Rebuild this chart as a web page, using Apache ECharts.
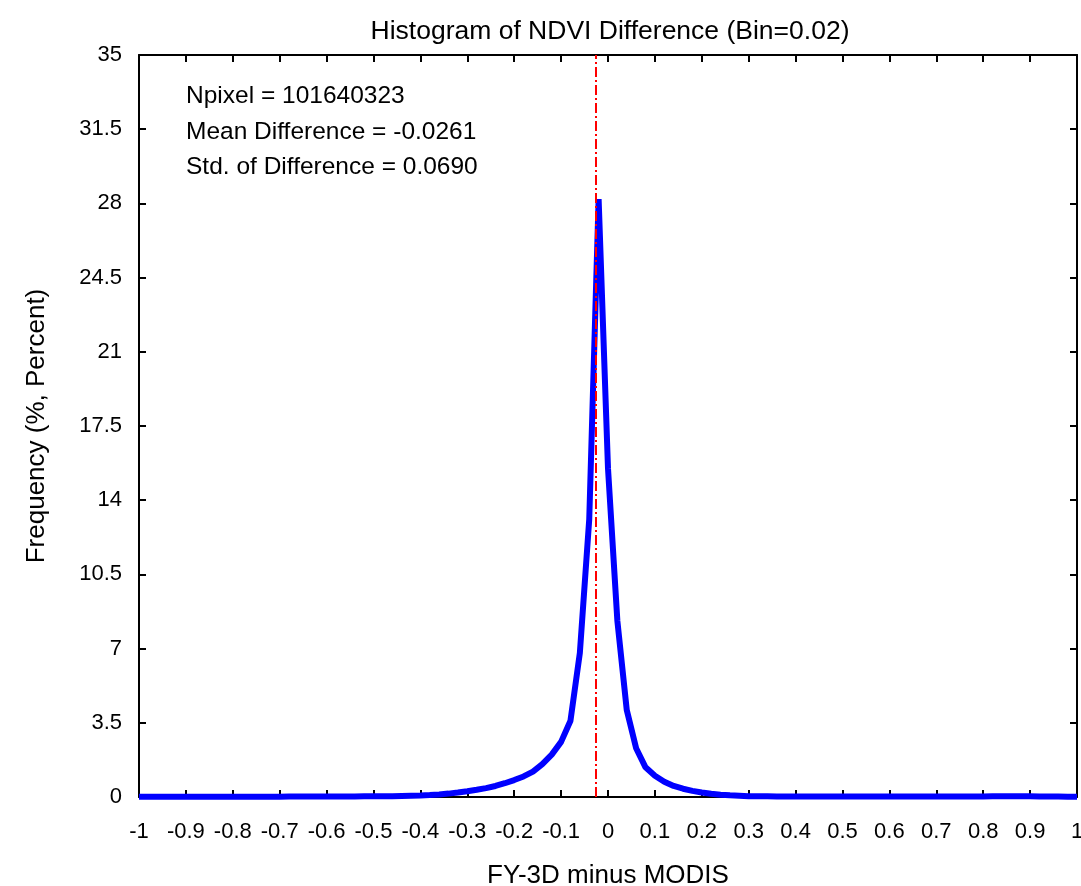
<!DOCTYPE html>
<html>
<head>
<meta charset="utf-8">
<script src="https://cdn.jsdelivr.net/npm/echarts@6/dist/echarts.min.js"></script>
<style>html,body{margin:0;padding:0;background:#fff;}#c{width:1081px;height:886px;}</style>
</head>
<body>
<div id="c"></div>
<script>
var binX = [-1.00,-0.98,-0.96,-0.94,-0.92,-0.90,-0.88,-0.86,-0.84,-0.82,-0.80,-0.78,-0.76,-0.74,-0.72,-0.70,-0.68,-0.66,-0.64,-0.62,-0.60,-0.58,-0.56,-0.54,-0.52,-0.50,-0.48,-0.46,-0.44,-0.42,-0.40,-0.38,-0.36,-0.34,-0.32,-0.30,-0.28,-0.26,-0.24,-0.22,-0.20,-0.18,-0.16,-0.14,-0.12,-0.10,-0.08,-0.06,-0.04,-0.02,0.00,0.02,0.04,0.06,0.08,0.10,0.12,0.14,0.16,0.18,0.20,0.22,0.24,0.26,0.28,0.30,0.32,0.34,0.36,0.38,0.40,0.42,0.44,0.46,0.48,0.50,0.52,0.54,0.56,0.58,0.60,0.62,0.64,0.66,0.68,0.70,0.72,0.74,0.76,0.78,0.80,0.82,0.84,0.86,0.88,0.90,0.92,0.94,0.96,0.98,1.00];
var freq = [0.01,0.01,0.01,0.01,0.01,0.01,0.01,0.01,0.01,0.01,0.01,0.01,0.01,0.01,0.01,0.01,0.02,0.02,0.02,0.02,0.02,0.02,0.02,0.02,0.03,0.03,0.03,0.04,0.05,0.06,0.07,0.09,0.12,0.16,0.21,0.27,0.34,0.42,0.52,0.65,0.80,0.97,1.20,1.55,2.00,2.60,3.60,6.80,13.1,28.2,15.5,8.3,4.1,2.3,1.40,1.00,0.72,0.52,0.39,0.29,0.21,0.15,0.11,0.08,0.06,0.04,0.03,0.03,0.02,0.02,0.02,0.02,0.02,0.02,0.02,0.02,0.02,0.02,0.02,0.02,0.02,0.02,0.02,0.02,0.02,0.02,0.02,0.02,0.02,0.02,0.02,0.03,0.03,0.04,0.04,0.03,0.02,0.02,0.02,0.01,0.01];
var meanDiff = -0.0261;
var statLines = ['Npixel = 101640323', 'Mean Difference = -0.0261', 'Std. of Difference = 0.0690'];
var titleText = 'Histogram of NDVI Difference (Bin=0.02)';
var xName = 'FY-3D minus MODIS';
var yName = 'Frequency (%, Percent)';

var FONT = 'Liberation Sans';
var chart = echarts.init(document.getElementById('c'), null, {renderer: 'canvas'});
var pts = binX.map(function (x, i) { return [x, freq[i]]; });
var axisLine = {show: true, onZero: false, lineStyle: {color: '#000', width: 2}};
var tick = {show: true, inside: true, length: 7, lineStyle: {color: '#000', width: 2}};
chart.setOption({
  animation: false,
  backgroundColor: '#fff',
  title: {
    text: titleText, left: 605, textAlign: 'center', top: 13,
    textStyle: {fontFamily: FONT, fontSize: 26.5, fontWeight: 'normal', color: '#000'}
  },
  grid: {left: 139, right: 4, top: 55, bottom: 89, containLabel: false, outerBoundsMode: 'none'},
  xAxis: [{
    type: 'value', min: -1, max: 1, interval: 0.1, position: 'bottom',
    axisLine: axisLine, axisTick: tick, splitLine: {show: false},
    axisLabel: {fontFamily: FONT, fontSize: 22, color: '#000', margin: 24},
    name: xName, nameLocation: 'middle', nameGap: 66,
    nameTextStyle: {fontFamily: FONT, fontSize: 26, color: '#000'}
  }, {
    type: 'value', min: -1, max: 1, interval: 0.1, position: 'top',
    axisLine: axisLine, axisTick: tick, splitLine: {show: false}, axisLabel: {show: false}
  }],
  yAxis: [{
    type: 'value', min: 0, max: 35, interval: 3.5, position: 'left',
    axisLine: axisLine, axisTick: tick, splitLine: {show: false},
    axisLabel: {fontFamily: FONT, fontSize: 22, color: '#000', margin: 17},
    name: yName, nameLocation: 'middle', nameGap: 89, nameRotate: 90,
    nameTextStyle: {fontFamily: FONT, fontSize: 26, color: '#000'}
  }, {
    type: 'value', min: 0, max: 35, interval: 3.5, position: 'right',
    axisLine: axisLine, axisTick: tick, splitLine: {show: false}, axisLabel: {show: false}
  }],
  graphic: statLines.map(function (t, i) {
    return {
      type: 'text', left: 186, top: 84 + i * 35.5,
      style: {text: t, fontFamily: FONT, fontSize: 24.5, fill: '#000'}
    };
  }),
  series: [{
    type: 'line', data: pts, showSymbol: false, symbol: 'none',
    lineStyle: {color: '#0000ff', width: 6},
    z: 3,
    markLine: {
      silent: true, symbol: 'none', label: {show: false},
      lineStyle: {color: '#ff0000', width: 2, type: [10, 3, 2, 3]},
      data: [[{coord: [meanDiff, 0]}, {coord: [meanDiff, 35]}]],
      z: 4
    }
  }]
});
</script>
</body>
</html>
